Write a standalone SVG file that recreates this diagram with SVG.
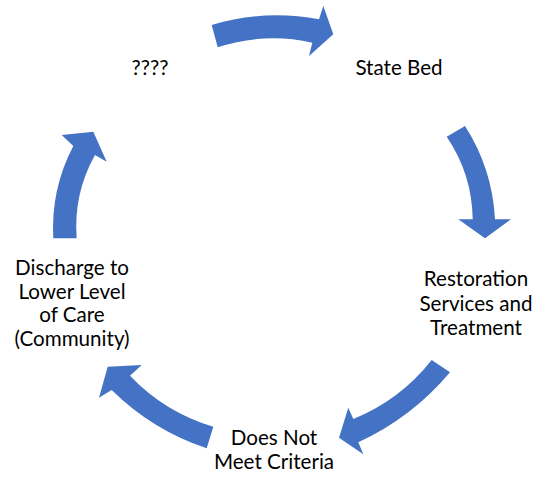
<svg xmlns="http://www.w3.org/2000/svg" width="537" height="477" viewBox="0 0 537 477">
<style>
.arr{fill:#4472C4;stroke:none}
.t{font-family:Lato,"Liberation Sans",sans-serif;font-size:20.6px;fill:#000;text-anchor:middle}
</style>
<rect width="537" height="477" fill="#fff"/>
<g id="connectors">
<path class="arr" d="M211.7,25 Q264.7,9.2 319,19.3 L323.3,6 L333.3,34.3 L309,56 L312.3,42.7 Q264.4,32 217.7,47.3 Z"/>
<path class="arr" d="M465,126 Q492.4,168.7 495,219.3 L511,219.3 L485,238.3 L458.3,219.3 L472.7,219.3 Q472.1,174.1 446.7,136.7 Z"/>
<path class="arr" d="M450,372.3 Q412,417.6 358.3,442.3 L363.3,454.3 L339,437.7 L348.3,407.7 L353.3,419 Q400.3,399.9 431.7,360 Z"/>
<path class="arr" d="M206.7,448.3 Q152.4,430.2 111.7,390 L99,397.7 L107.7,366.7 L141.7,365 L130,375.7 Q164.9,412.3 213.3,426.7 Z"/>
<path class="arr" d="M53.3,238.3 Q50.6,189.4 73.3,146 L61.7,135 L93.3,131.7 L106.7,161.7 L95,155 Q73.2,193.9 76.7,238.3 Z"/>
</g>
<g id="node-unknown"><text class="t" x="150" y="75">????</text></g>
<g id="node-state-bed"><text class="t" x="399" y="75">State Bed</text></g>
<g id="node-restoration"><text class="t" x="476" y="286">Restoration</text><text class="t" x="476" y="310.5">Services and</text><text class="t" x="476" y="335">Treatment</text></g>
<g id="node-does-not-meet"><text class="t" x="274" y="445">Does Not</text><text class="t" x="274" y="469">Meet Criteria</text></g>
<g id="node-discharge"><text class="t" x="72" y="275">Discharge to</text><text class="t" x="72" y="298.5">Lower Level</text><text class="t" x="72" y="322">of Care</text><text class="t" x="72" y="345.5">(Community)</text></g>
</svg>
